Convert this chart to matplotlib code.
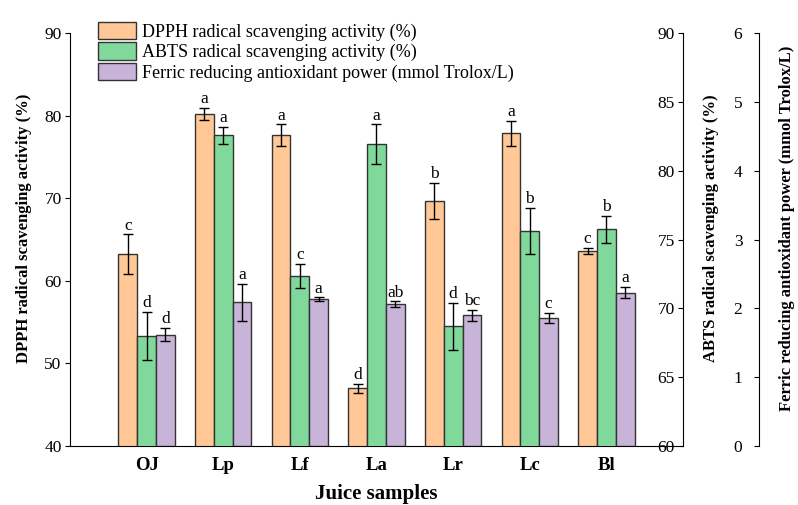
import matplotlib.pyplot as plt
import numpy as np

plt.rcParams["font.family"] = ["Liberation Serif", "DejaVu Serif"]

samples = ["OJ", "Lp", "Lf", "La", "Lr", "Lc", "Bl"]

dpph = [63.2, 80.2, 77.65, 46.98, 69.66, 77.85, 63.6]
dpph_err = [2.42, 0.73, 1.3, 0.55, 2.18, 1.5, 0.4]
dpph_sig = ["c", "a", "a", "d", "b", "a", "c"]

abts = [68.0, 82.56, 72.35, 81.93, 68.71, 75.61, 75.73]
abts_err = [1.73, 0.63, 0.88, 1.43, 1.7, 1.67, 1.0]
abts_sig = ["d", "a", "c", "a", "d", "b", "b"]

frap = [1.62, 2.09, 2.13, 2.06, 1.90, 1.86, 2.23]
frap_err = [0.10, 0.27, 0.03, 0.04, 0.08, 0.07, 0.08]
frap_sig = ["d", "a", "a", "ab", "bc", "c", "a"]

c_dpph = "#FFC896"
c_abts = "#80D99B"
c_frap = "#C8B4D8"
edge = "#333333"

fig = plt.figure(figsize=(7.98, 5.05), dpi=100)
ax = fig.add_axes([0.0877, 0.1168, 0.7682, 0.8178])
ax2 = ax.twinx()
ax3 = ax.twinx()

x = np.arange(1, len(samples) + 1)
w = 0.245
err_kw = dict(ecolor="black", elinewidth=1, capsize=3.5, capthick=1)


def draw(axis, pos, vals, errs, sig, color, label):
    bars = axis.bar(pos, vals, w, yerr=errs, color=color, edgecolor=edge,
                    linewidth=1, error_kw=err_kw, label=label)
    for xi, v, e, s in zip(pos, vals, errs, sig):
        axis.annotate(s, (xi, v + e), xytext=(0, 0.5), textcoords="offset points",
                      ha="center", va="bottom", fontsize=12.5)
    return bars


b1 = draw(ax, x - w, dpph, dpph_err, dpph_sig, c_dpph, "DPPH radical scavenging activity (%)")
b2 = draw(ax2, x, abts, abts_err, abts_sig, c_abts, "ABTS radical scavenging activity (%)")
b3 = draw(ax3, x + w, frap, frap_err, frap_sig, c_frap, "Ferric reducing antioxidant power (mmol Trolox/L)")

# left axis: DPPH
ax.set_xlim(0, 8)
ax.set_ylim(40, 90)
ax.set_yticks(range(40, 91, 10))
ax.set_xticks(x)
ax.set_xticklabels(samples, fontweight="bold", fontsize=13.5)
ax.tick_params(axis="x", direction="in", length=4, pad=8)
ax.tick_params(axis="y", direction="out", length=3.5, pad=2.5, labelsize=12.5)
ax.spines["top"].set_visible(False)
ax.spines["right"].set_visible(False)
ax.set_ylabel("DPPH radical scavenging activity (%)", fontweight="bold", fontsize=12)
ax.yaxis.set_label_coords(-0.062, 0.528)
ax.set_xlabel("Juice samples", fontweight="bold", fontsize=15)
ax.xaxis.set_label_coords(0.5, -0.092)

# right axes: ABTS and FRAP, ticks and labels sit inside their spines
for axis, xpos, lo, hi, step, pad in [(ax2, 1.0, 60, 90, 5, 2.5), (ax3, 1.124, 0, 6, 1, 8.5)]:
    axis.set_ylim(lo, hi)
    axis.set_yticks(np.arange(lo, hi + step, step))
    for s in ["top", "bottom", "right"]:
        axis.spines[s].set_visible(False)
    axis.spines["left"].set_position(("axes", xpos))
    axis.yaxis.set_ticks_position("left")
    axis.tick_params(axis="y", direction="out", length=3.5, pad=pad, labelsize=12.5)

ax2.set_ylabel("ABTS radical scavenging activity (%)", fontweight="bold", fontsize=12)
ax2.yaxis.set_label_coords(1.032, 0.528)
ax3.set_ylabel("Ferric reducing antioxidant power (mmol Trolox/L)", fontweight="bold", fontsize=12)
ax3.yaxis.set_label_coords(1.157, 0.528)

handles = [b1, b2, b3]
fig.legend(handles=handles, labels=[h.get_label() for h in handles],
           loc="upper left", bbox_to_anchor=(0.1228, 0.9564), frameon=False,
           fontsize=13, handlelength=2.1, handleheight=1.1, labelspacing=0.08,
           handletextpad=0.33, borderpad=0, borderaxespad=0)

fig.savefig("out.png", dpi=100)
